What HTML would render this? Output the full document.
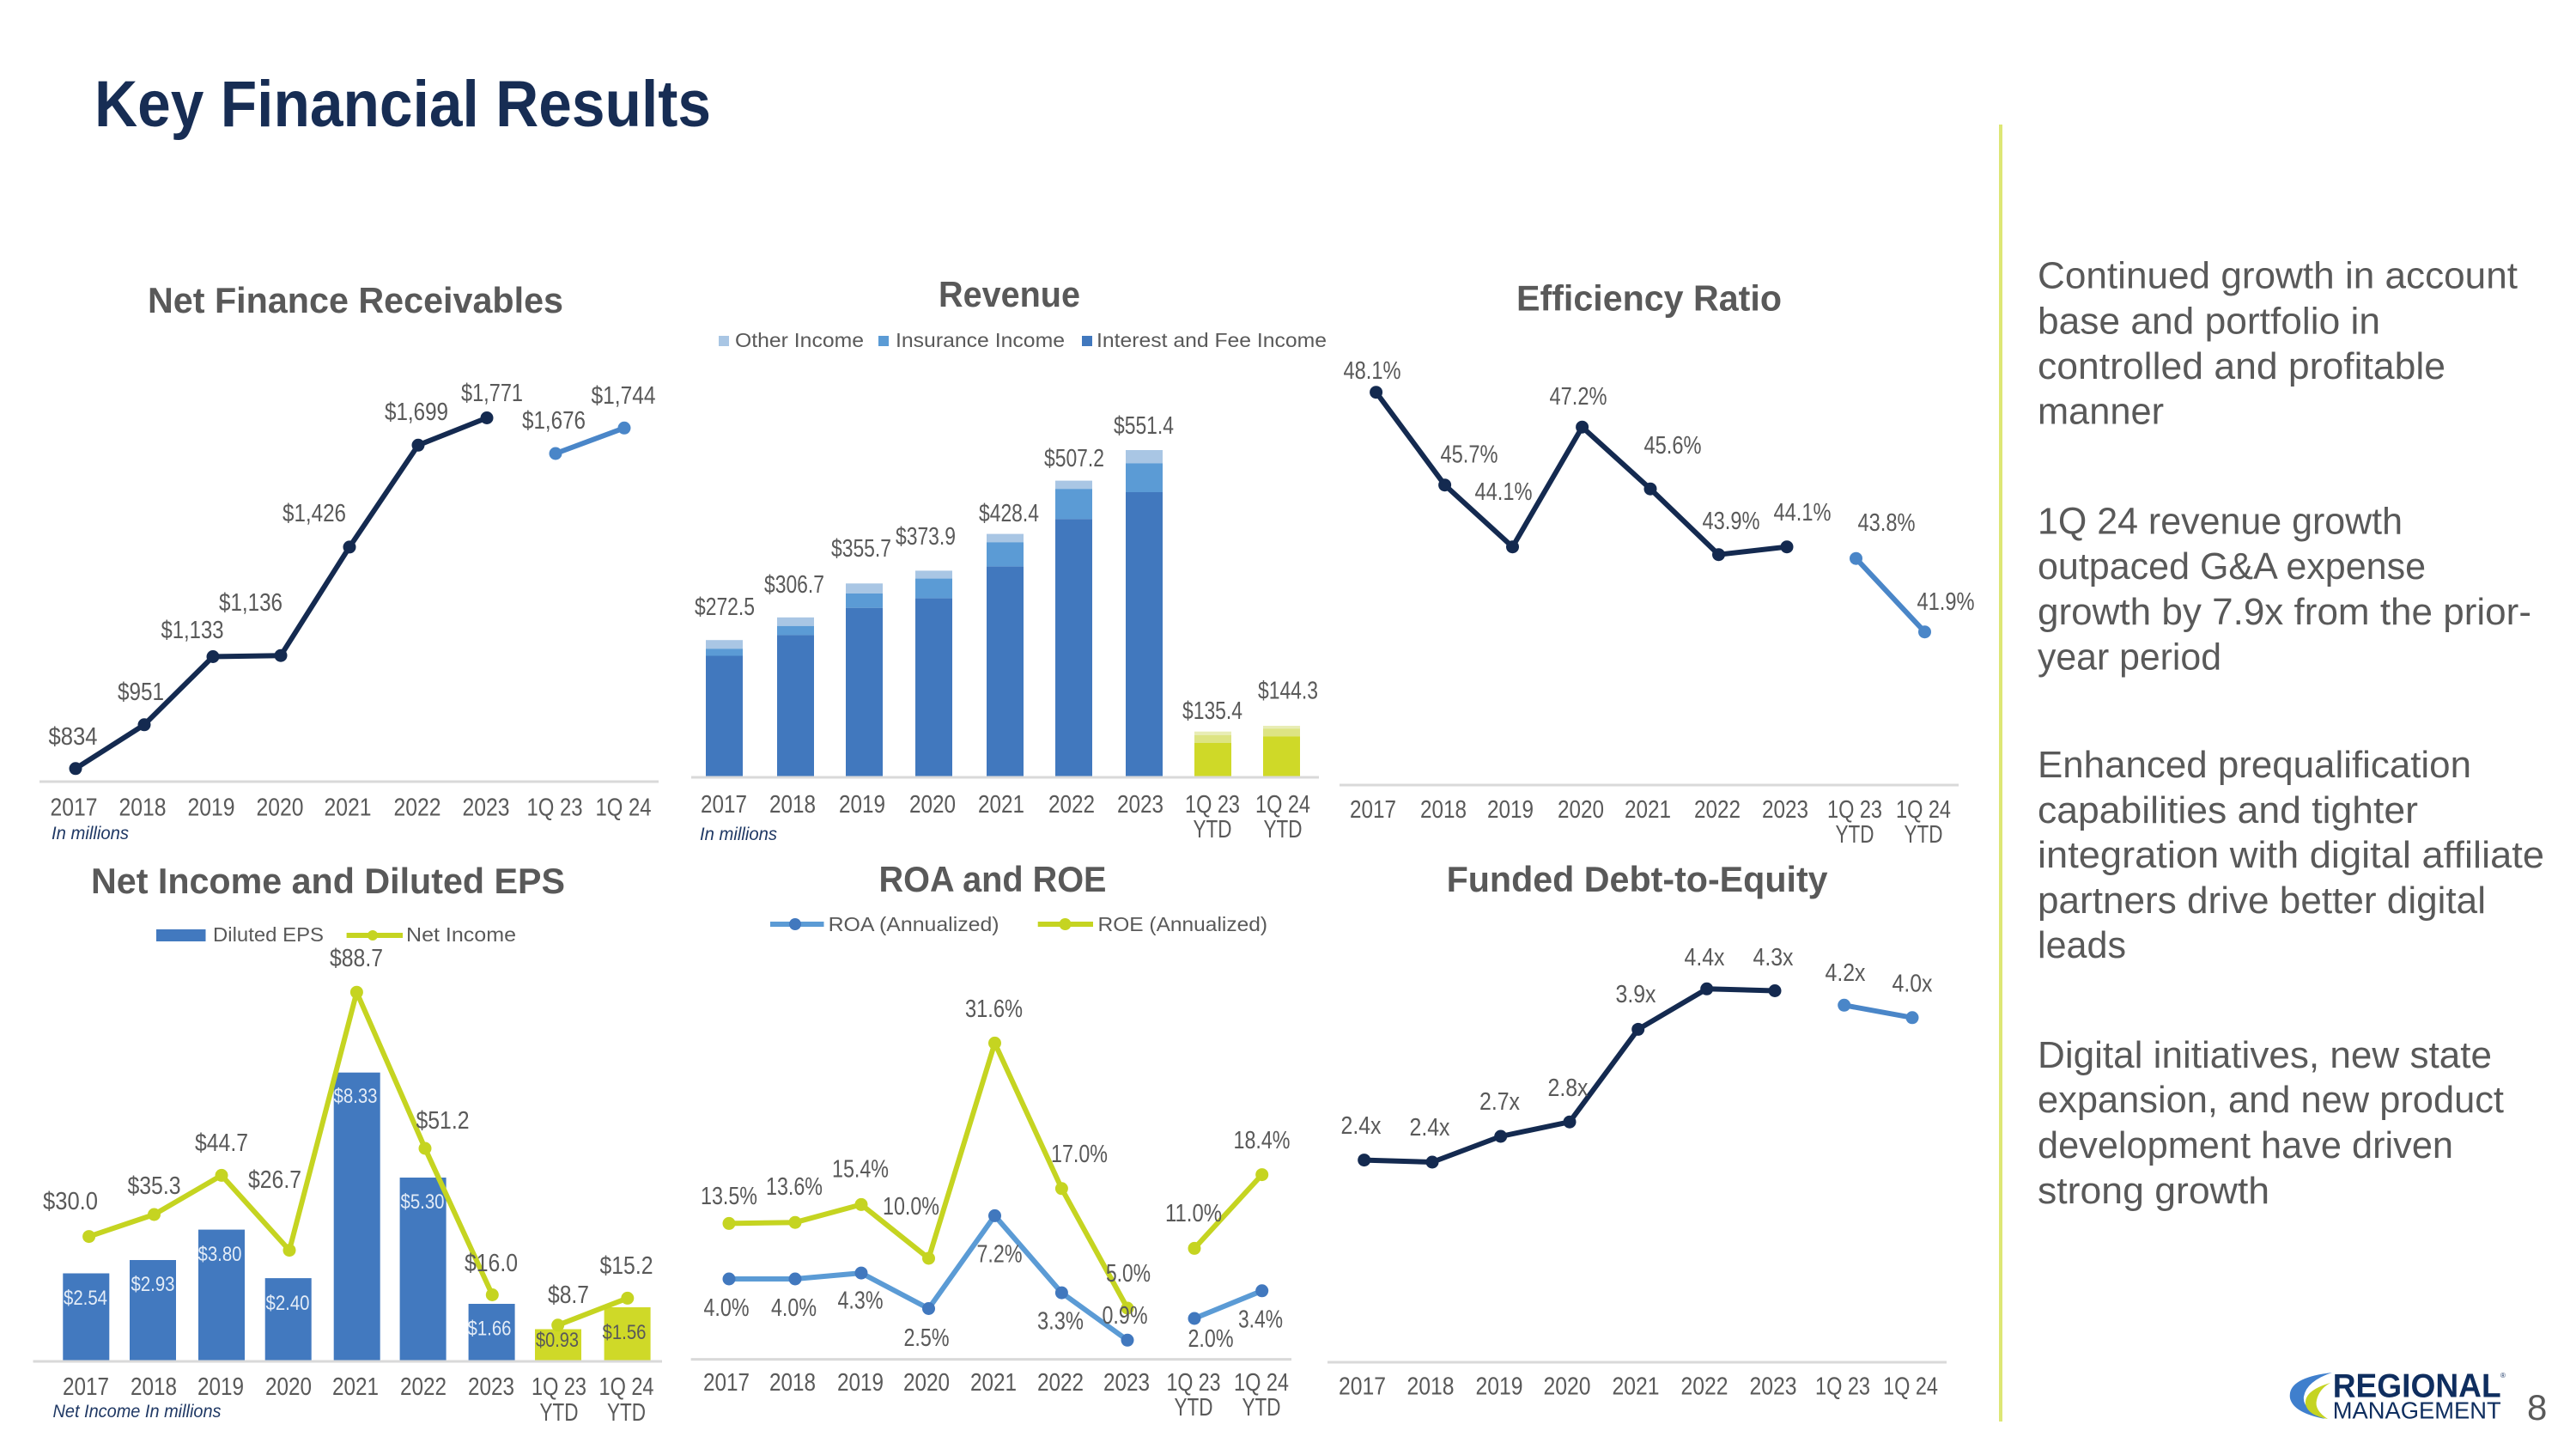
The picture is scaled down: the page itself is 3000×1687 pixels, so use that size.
<!DOCTYPE html>
<html>
<head>
<meta charset="utf-8">
<style>
  html,body{margin:0;padding:0;background:#ffffff;}
  body{width:3000px;height:1687px;overflow:hidden;}
  svg{display:block;}
  text{font-family:"Liberation Sans",sans-serif;}
  .t{fill:#595959;font-size:29px;text-anchor:middle;}
  .e{fill:#e3ecf7;font-size:24px;text-anchor:middle;}
  .g{fill:#595959;font-size:24px;text-anchor:middle;}
  .h{fill:#595959;font-size:42px;font-weight:bold;text-anchor:middle;}
  .lg{fill:#595959;font-size:23px;}
  .it{fill:#1f3864;font-size:21px;font-style:italic;}
  .r{fill:#595959;font-size:44px;}
  .ax{stroke:#d9d9d9;stroke-width:3;}
  .nv{fill:none;stroke:#142a50;stroke-width:6;stroke-linejoin:round;}
  .lb{fill:none;stroke:#4a86c8;stroke-width:6;stroke-linejoin:round;}
  .lm{fill:none;stroke:#c5d421;stroke-width:6;stroke-linejoin:round;}
  .ra{fill:none;stroke:#5b9bd5;stroke-width:6;stroke-linejoin:round;}
</style>
</head>
<body>
<svg width="3000" height="1687" viewBox="0 0 3000 1687" xmlns="http://www.w3.org/2000/svg">
<rect x="0" y="0" width="3000" height="1687" fill="#ffffff"/>

<!-- Main title -->
<text x="110" y="147" font-size="76" font-weight="bold" fill="#172d54" textLength="718" lengthAdjust="spacingAndGlyphs">Key Financial Results</text>

<!-- Divider -->
<line x1="2330" y1="145" x2="2330" y2="1655" stroke="#dde775" stroke-width="4"/>

<!-- ============ Chart 1: Net Finance Receivables ============ -->
<text class="h" x="414" y="364" textLength="484" lengthAdjust="spacingAndGlyphs">Net Finance Receivables</text>
<line class="ax" x1="46" y1="910" x2="767" y2="910"/>
<polyline class="nv" points="88,894.8 168,843.8 248,764.5 327,763.2 407,636.9 487,518.3 567,486.5"/>
<polyline class="lb" points="647,528 727,498.3"/>
<g fill="#142a50">
<circle cx="88" cy="894.8" r="7.5"/><circle cx="168" cy="843.8" r="7.5"/><circle cx="248" cy="764.5" r="7.5"/>
<circle cx="327" cy="763.2" r="7.5"/><circle cx="407" cy="636.9" r="7.5"/><circle cx="487" cy="518.3" r="7.5"/>
<circle cx="567" cy="486.5" r="7.5"/>
</g>
<g fill="#4a86c8"><circle cx="647" cy="528" r="7.5"/><circle cx="727" cy="498.3" r="7.5"/></g>
<text class="t" x="85" y="867" textLength="57" lengthAdjust="spacingAndGlyphs">$834</text>
<text class="t" x="164" y="815" textLength="54" lengthAdjust="spacingAndGlyphs">$951</text>
<text class="t" x="224" y="743" textLength="73" lengthAdjust="spacingAndGlyphs">$1,133</text>
<text class="t" x="292" y="711" textLength="74" lengthAdjust="spacingAndGlyphs">$1,136</text>
<text class="t" x="366" y="607" textLength="74" lengthAdjust="spacingAndGlyphs">$1,426</text>
<text class="t" x="485" y="489" textLength="74" lengthAdjust="spacingAndGlyphs">$1,699</text>
<text class="t" x="573" y="467" textLength="72" lengthAdjust="spacingAndGlyphs">$1,771</text>
<text class="t" x="645" y="499" textLength="74" lengthAdjust="spacingAndGlyphs">$1,676</text>
<text class="t" x="726" y="470" textLength="75" lengthAdjust="spacingAndGlyphs">$1,744</text>
<g>
<text class="t" x="86" y="949.5" textLength="55" lengthAdjust="spacingAndGlyphs">2017</text>
<text class="t" x="166" y="949.5" textLength="55" lengthAdjust="spacingAndGlyphs">2018</text>
<text class="t" x="246" y="949.5" textLength="55" lengthAdjust="spacingAndGlyphs">2019</text>
<text class="t" x="326" y="949.5" textLength="55" lengthAdjust="spacingAndGlyphs">2020</text>
<text class="t" x="405" y="949.5" textLength="55" lengthAdjust="spacingAndGlyphs">2021</text>
<text class="t" x="486" y="949.5" textLength="55" lengthAdjust="spacingAndGlyphs">2022</text>
<text class="t" x="566" y="949.5" textLength="55" lengthAdjust="spacingAndGlyphs">2023</text>
<text class="t" x="646" y="949.5" textLength="65" lengthAdjust="spacingAndGlyphs">1Q 23</text>
<text class="t" x="726" y="949.5" textLength="65" lengthAdjust="spacingAndGlyphs">1Q 24</text>
</g>
<text class="it" x="60" y="977" textLength="90" lengthAdjust="spacingAndGlyphs">In millions</text>

<!-- ============ Chart 2: Revenue ============ -->
<text class="h" x="1175.5" y="357" textLength="165" lengthAdjust="spacingAndGlyphs">Revenue</text>
<rect x="837" y="391" width="12" height="12" fill="#a9c6e4"/>
<text class="lg" x="856" y="404" textLength="150" lengthAdjust="spacingAndGlyphs">Other Income</text>
<rect x="1023" y="391" width="12" height="12" fill="#5b9bd5"/>
<text class="lg" x="1043" y="404" textLength="197" lengthAdjust="spacingAndGlyphs">Insurance Income</text>
<rect x="1260" y="391" width="12" height="12" fill="#4178be"/>
<text class="lg" x="1277" y="404" textLength="268" lengthAdjust="spacingAndGlyphs">Interest and Fee Income</text>

<g>
<!-- 2017 -->
<rect x="822" y="745.2" width="43" height="10.1" fill="#a9c6e4"/><rect x="822" y="755.3" width="43" height="8.2" fill="#5b9bd5"/><rect x="822" y="763.5" width="43" height="141.5" fill="#4178be"/>
<!-- 2018 -->
<rect x="905" y="718.8" width="43" height="10" fill="#a9c6e4"/><rect x="905" y="728.8" width="43" height="10.6" fill="#5b9bd5"/><rect x="905" y="739.4" width="43" height="165.6" fill="#4178be"/>
<!-- 2019 -->
<rect x="985" y="679.3" width="43" height="11.6" fill="#a9c6e4"/><rect x="985" y="690.9" width="43" height="16.8" fill="#5b9bd5"/><rect x="985" y="707.7" width="43" height="197.3" fill="#4178be"/>
<!-- 2020 -->
<rect x="1066" y="664.4" width="43" height="9.2" fill="#a9c6e4"/><rect x="1066" y="673.6" width="43" height="23" fill="#5b9bd5"/><rect x="1066" y="696.6" width="43" height="208.4" fill="#4178be"/>
<!-- 2021 -->
<rect x="1149" y="621.6" width="43" height="9.7" fill="#a9c6e4"/><rect x="1149" y="631.3" width="43" height="28.3" fill="#5b9bd5"/><rect x="1149" y="659.6" width="43" height="245.4" fill="#4178be"/>
<!-- 2022 -->
<rect x="1229" y="559.6" width="43" height="9.6" fill="#a9c6e4"/><rect x="1229" y="569.2" width="43" height="35.1" fill="#5b9bd5"/><rect x="1229" y="604.3" width="43" height="300.7" fill="#4178be"/>
<!-- 2023 -->
<rect x="1311" y="524" width="43" height="15.4" fill="#a9c6e4"/><rect x="1311" y="539.4" width="43" height="33.6" fill="#5b9bd5"/><rect x="1311" y="573" width="43" height="332" fill="#4178be"/>
<!-- 1Q23 -->
<rect x="1391" y="851.7" width="43" height="4.3" fill="#e8edb5"/><rect x="1391" y="856" width="43" height="9" fill="#dde483"/><rect x="1391" y="865" width="43" height="40" fill="#cfd928"/>
<!-- 1Q24 -->
<rect x="1471" y="845" width="43" height="3.3" fill="#e8edb5"/><rect x="1471" y="848.3" width="43" height="9" fill="#dde483"/><rect x="1471" y="857.3" width="43" height="47.7" fill="#cfd928"/>
</g>
<line class="ax" x1="805" y1="905" x2="1536" y2="905"/>
<text class="t" x="844" y="716" textLength="70" lengthAdjust="spacingAndGlyphs">$272.5</text>
<text class="t" x="925" y="690" textLength="70" lengthAdjust="spacingAndGlyphs">$306.7</text>
<text class="t" x="1003" y="648" textLength="70" lengthAdjust="spacingAndGlyphs">$355.7</text>
<text class="t" x="1078" y="634" textLength="70" lengthAdjust="spacingAndGlyphs">$373.9</text>
<text class="t" x="1175" y="607" textLength="70" lengthAdjust="spacingAndGlyphs">$428.4</text>
<text class="t" x="1251" y="543" textLength="70" lengthAdjust="spacingAndGlyphs">$507.2</text>
<text class="t" x="1332" y="505" textLength="70" lengthAdjust="spacingAndGlyphs">$551.4</text>
<text class="t" x="1412" y="837" textLength="70" lengthAdjust="spacingAndGlyphs">$135.4</text>
<text class="t" x="1500" y="813.5" textLength="70" lengthAdjust="spacingAndGlyphs">$144.3</text>
<g>
<text class="t" x="843" y="946" textLength="54" lengthAdjust="spacingAndGlyphs">2017</text>
<text class="t" x="923" y="946" textLength="54" lengthAdjust="spacingAndGlyphs">2018</text>
<text class="t" x="1004" y="946" textLength="54" lengthAdjust="spacingAndGlyphs">2019</text>
<text class="t" x="1086" y="946" textLength="54" lengthAdjust="spacingAndGlyphs">2020</text>
<text class="t" x="1166" y="946" textLength="54" lengthAdjust="spacingAndGlyphs">2021</text>
<text class="t" x="1248" y="946" textLength="54" lengthAdjust="spacingAndGlyphs">2022</text>
<text class="t" x="1328" y="946" textLength="54" lengthAdjust="spacingAndGlyphs">2023</text>
<text class="t" x="1412" y="946" textLength="64" lengthAdjust="spacingAndGlyphs">1Q 23</text>
<text class="t" x="1494" y="946" textLength="64" lengthAdjust="spacingAndGlyphs">1Q 24</text>
<text class="t" x="1412" y="975" textLength="45" lengthAdjust="spacingAndGlyphs">YTD</text>
<text class="t" x="1494" y="975" textLength="45" lengthAdjust="spacingAndGlyphs">YTD</text>
</g>
<text class="it" x="815" y="978" textLength="90" lengthAdjust="spacingAndGlyphs">In millions</text>

<!-- ============ Chart 3: Efficiency Ratio ============ -->
<text class="h" x="1920.5" y="361.5" textLength="309" lengthAdjust="spacingAndGlyphs">Efficiency Ratio</text>
<line class="ax" x1="1560" y1="914" x2="2281" y2="914"/>
<polyline class="nv" points="1602.6,456.7 1682.6,564.7 1761.5,636.7 1842.6,497.2 1922,569.2 2001.5,645.7 2081,636.7"/>
<polyline class="lb" points="2161.5,650.2 2241.5,735.7"/>
<g fill="#142a50">
<circle cx="1602.6" cy="456.7" r="7.5"/><circle cx="1682.6" cy="564.7" r="7.5"/><circle cx="1761.5" cy="636.7" r="7.5"/>
<circle cx="1842.6" cy="497.2" r="7.5"/><circle cx="1922" cy="569.2" r="7.5"/><circle cx="2001.5" cy="645.7" r="7.5"/>
<circle cx="2081" cy="636.7" r="7.5"/>
</g>
<g fill="#4a86c8"><circle cx="2161.5" cy="650.2" r="7.5"/><circle cx="2241.5" cy="735.7" r="7.5"/></g>
<text class="t" x="1598" y="441" textLength="67" lengthAdjust="spacingAndGlyphs">48.1%</text>
<text class="t" x="1711" y="538.5" textLength="67" lengthAdjust="spacingAndGlyphs">45.7%</text>
<text class="t" x="1751" y="582" textLength="67" lengthAdjust="spacingAndGlyphs">44.1%</text>
<text class="t" x="1838" y="471" textLength="67" lengthAdjust="spacingAndGlyphs">47.2%</text>
<text class="t" x="1948" y="528" textLength="67" lengthAdjust="spacingAndGlyphs">45.6%</text>
<text class="t" x="2016" y="616" textLength="67" lengthAdjust="spacingAndGlyphs">43.9%</text>
<text class="t" x="2099" y="606" textLength="67" lengthAdjust="spacingAndGlyphs">44.1%</text>
<text class="t" x="2197" y="618" textLength="67" lengthAdjust="spacingAndGlyphs">43.8%</text>
<text class="t" x="2266" y="710" textLength="67" lengthAdjust="spacingAndGlyphs">41.9%</text>
<g>
<text class="t" x="1599" y="952" textLength="54" lengthAdjust="spacingAndGlyphs">2017</text>
<text class="t" x="1681" y="952" textLength="54" lengthAdjust="spacingAndGlyphs">2018</text>
<text class="t" x="1759" y="952" textLength="54" lengthAdjust="spacingAndGlyphs">2019</text>
<text class="t" x="1841" y="952" textLength="54" lengthAdjust="spacingAndGlyphs">2020</text>
<text class="t" x="1919" y="952" textLength="54" lengthAdjust="spacingAndGlyphs">2021</text>
<text class="t" x="2000" y="952" textLength="54" lengthAdjust="spacingAndGlyphs">2022</text>
<text class="t" x="2079" y="952" textLength="54" lengthAdjust="spacingAndGlyphs">2023</text>
<text class="t" x="2160" y="952" textLength="64" lengthAdjust="spacingAndGlyphs">1Q 23</text>
<text class="t" x="2240" y="952" textLength="64" lengthAdjust="spacingAndGlyphs">1Q 24</text>
<text class="t" x="2160" y="981" textLength="45" lengthAdjust="spacingAndGlyphs">YTD</text>
<text class="t" x="2240" y="981" textLength="45" lengthAdjust="spacingAndGlyphs">YTD</text>
</g>

<!-- ============ Chart 4: Net Income and Diluted EPS ============ -->
<text class="h" x="382" y="1040" textLength="552" lengthAdjust="spacingAndGlyphs">Net Income and Diluted EPS</text>
<rect x="182" y="1082" width="57.5" height="14" fill="#4279bf"/>
<text class="lg" x="248" y="1096" textLength="129" lengthAdjust="spacingAndGlyphs">Diluted EPS</text>
<line x1="403.6" y1="1089" x2="469" y2="1089" stroke="#c5d421" stroke-width="6"/>
<circle cx="434" cy="1089" r="6" fill="#c5d421"/>
<text class="lg" x="473" y="1096" textLength="128" lengthAdjust="spacingAndGlyphs">Net Income</text>
<g fill="#4279bf">
<rect x="73.3" y="1482.5" width="54" height="102.5"/>
<rect x="151" y="1467" width="54" height="118"/>
<rect x="231" y="1431.6" width="54" height="153.4"/>
<rect x="308.7" y="1488.1" width="54" height="96.9"/>
<rect x="388.7" y="1248.7" width="54" height="336.3"/>
<rect x="465.6" y="1371" width="54" height="214"/>
<rect x="545.6" y="1518" width="54" height="67"/>
</g>
<g fill="#cfd928">
<rect x="623" y="1547.5" width="54" height="37.5"/>
<rect x="703.6" y="1522" width="54" height="63"/>
</g>
<line class="ax" x1="38.5" y1="1585" x2="771" y2="1585"/>
<text class="e" x="99.5" y="1519" textLength="51" lengthAdjust="spacingAndGlyphs">$2.54</text>
<text class="e" x="178" y="1503" textLength="51" lengthAdjust="spacingAndGlyphs">$2.93</text>
<text class="e" x="256" y="1468" textLength="51" lengthAdjust="spacingAndGlyphs">$3.80</text>
<text class="e" x="335" y="1525" textLength="51" lengthAdjust="spacingAndGlyphs">$2.40</text>
<text class="e" x="414" y="1284" textLength="51" lengthAdjust="spacingAndGlyphs">$8.33</text>
<text class="e" x="492" y="1407" textLength="51" lengthAdjust="spacingAndGlyphs">$5.30</text>
<text class="e" x="570" y="1554.5" textLength="51" lengthAdjust="spacingAndGlyphs">$1.66</text>
<text class="g" x="649" y="1568" textLength="50" lengthAdjust="spacingAndGlyphs">$0.93</text>
<text class="g" x="727" y="1559" textLength="51" lengthAdjust="spacingAndGlyphs">$1.56</text>
<polyline class="lm" points="103.6,1439.6 179.5,1414 258,1368.4 337,1455.6 415.4,1155.2 495,1337 573.3,1507.5"/>
<polyline class="lm" points="649.7,1542.8 730.8,1511.4"/>
<g fill="#c5d421">
<circle cx="103.6" cy="1439.6" r="7.5"/><circle cx="179.5" cy="1414" r="7.5"/><circle cx="258" cy="1368.4" r="7.5"/>
<circle cx="337" cy="1455.6" r="7.5"/><circle cx="415.4" cy="1155.2" r="7.5"/><circle cx="495" cy="1337" r="7.5"/>
<circle cx="573.3" cy="1507.5" r="7.5"/><circle cx="649.7" cy="1542.8" r="7.5"/><circle cx="730.8" cy="1511.4" r="7.5"/>
</g>
<text class="t" x="82" y="1408" textLength="64" lengthAdjust="spacingAndGlyphs">$30.0</text>
<text class="t" x="179.5" y="1390" textLength="62" lengthAdjust="spacingAndGlyphs">$35.3</text>
<text class="t" x="258" y="1340" textLength="62" lengthAdjust="spacingAndGlyphs">$44.7</text>
<text class="t" x="320" y="1383" textLength="62" lengthAdjust="spacingAndGlyphs">$26.7</text>
<text class="t" x="415" y="1125" textLength="62" lengthAdjust="spacingAndGlyphs">$88.7</text>
<text class="t" x="515.5" y="1314" textLength="62" lengthAdjust="spacingAndGlyphs">$51.2</text>
<text class="t" x="572" y="1480" textLength="62" lengthAdjust="spacingAndGlyphs">$16.0</text>
<text class="t" x="662" y="1517" textLength="48" lengthAdjust="spacingAndGlyphs">$8.7</text>
<text class="t" x="729.5" y="1483" textLength="62" lengthAdjust="spacingAndGlyphs">$15.2</text>
<g>
<text class="t" x="100" y="1624" textLength="54" lengthAdjust="spacingAndGlyphs">2017</text>
<text class="t" x="179" y="1624" textLength="54" lengthAdjust="spacingAndGlyphs">2018</text>
<text class="t" x="257" y="1624" textLength="54" lengthAdjust="spacingAndGlyphs">2019</text>
<text class="t" x="336" y="1624" textLength="54" lengthAdjust="spacingAndGlyphs">2020</text>
<text class="t" x="414" y="1624" textLength="54" lengthAdjust="spacingAndGlyphs">2021</text>
<text class="t" x="493" y="1624" textLength="54" lengthAdjust="spacingAndGlyphs">2022</text>
<text class="t" x="572" y="1624" textLength="54" lengthAdjust="spacingAndGlyphs">2023</text>
<text class="t" x="651" y="1624" textLength="64" lengthAdjust="spacingAndGlyphs">1Q 23</text>
<text class="t" x="729.5" y="1624" textLength="64" lengthAdjust="spacingAndGlyphs">1Q 24</text>
<text class="t" x="651" y="1654" textLength="45" lengthAdjust="spacingAndGlyphs">YTD</text>
<text class="t" x="729.5" y="1654" textLength="45" lengthAdjust="spacingAndGlyphs">YTD</text>
</g>
<text class="it" x="61.5" y="1650" textLength="196" lengthAdjust="spacingAndGlyphs">Net Income In millions</text>

<!-- ============ Chart 5: ROA and ROE ============ -->
<text class="h" x="1156" y="1038" textLength="265" lengthAdjust="spacingAndGlyphs">ROA and ROE</text>
<line x1="897" y1="1076" x2="959.5" y2="1076" stroke="#5b9bd5" stroke-width="6"/>
<circle cx="926" cy="1076" r="7" fill="#4178be"/>
<text class="lg" x="964.6" y="1084" textLength="199" lengthAdjust="spacingAndGlyphs">ROA (Annualized)</text>
<line x1="1208.7" y1="1076" x2="1273" y2="1076" stroke="#c5d421" stroke-width="6"/>
<circle cx="1240.5" cy="1076" r="7" fill="#c5d421"/>
<text class="lg" x="1278.5" y="1084" textLength="197.5" lengthAdjust="spacingAndGlyphs">ROE (Annualized)</text>
<line class="ax" x1="804.6" y1="1582.6" x2="1504" y2="1582.6"/>
<polyline class="lm" points="849,1424.4 926,1423.2 1003,1402.4 1081.5,1465 1158.5,1214.4 1236.4,1383.8 1313,1523"/>
<polyline class="lm" points="1391,1453.4 1469.7,1367.6"/>
<g fill="#c5d421">
<circle cx="849" cy="1424.4" r="7.5"/><circle cx="926" cy="1423.2" r="7.5"/><circle cx="1003" cy="1402.4" r="7.5"/>
<circle cx="1081.5" cy="1465" r="7.5"/><circle cx="1158.5" cy="1214.4" r="7.5"/><circle cx="1236.4" cy="1383.8" r="7.5"/>
<circle cx="1313" cy="1523" r="7.5"/><circle cx="1391" cy="1453.4" r="7.5"/><circle cx="1469.7" cy="1367.6" r="7.5"/>
</g>
<polyline class="ra" points="849,1489 926,1489 1003,1482.1 1081.5,1523.5 1158.5,1415.4 1236.4,1505.1 1313,1560.3"/>
<polyline class="ra" points="1391,1535 1469.7,1502.8"/>
<g fill="#4178be">
<circle cx="849" cy="1489" r="7.5"/><circle cx="926" cy="1489" r="7.5"/><circle cx="1003" cy="1482.1" r="7.5"/>
<circle cx="1081.5" cy="1523.5" r="7.5"/><circle cx="1158.5" cy="1415.4" r="7.5"/><circle cx="1236.4" cy="1505.1" r="7.5"/>
<circle cx="1313" cy="1560.3" r="7.5"/><circle cx="1391" cy="1535" r="7.5"/><circle cx="1469.7" cy="1502.8" r="7.5"/>
</g>
<text class="t" x="849" y="1402" textLength="66" lengthAdjust="spacingAndGlyphs">13.5%</text>
<text class="t" x="925" y="1391" textLength="66" lengthAdjust="spacingAndGlyphs">13.6%</text>
<text class="t" x="1002" y="1370.6" textLength="66" lengthAdjust="spacingAndGlyphs">15.4%</text>
<text class="t" x="1061" y="1414" textLength="66" lengthAdjust="spacingAndGlyphs">10.0%</text>
<text class="t" x="1157.5" y="1184" textLength="67" lengthAdjust="spacingAndGlyphs">31.6%</text>
<text class="t" x="1257" y="1353" textLength="66" lengthAdjust="spacingAndGlyphs">17.0%</text>
<text class="t" x="1314" y="1492" textLength="52" lengthAdjust="spacingAndGlyphs">5.0%</text>
<text class="t" x="1390" y="1422" textLength="66" lengthAdjust="spacingAndGlyphs">11.0%</text>
<text class="t" x="1469.5" y="1337" textLength="66" lengthAdjust="spacingAndGlyphs">18.4%</text>
<text class="t" x="846" y="1532" textLength="53" lengthAdjust="spacingAndGlyphs">4.0%</text>
<text class="t" x="924.5" y="1532" textLength="53" lengthAdjust="spacingAndGlyphs">4.0%</text>
<text class="t" x="1002" y="1523.7" textLength="53" lengthAdjust="spacingAndGlyphs">4.3%</text>
<text class="t" x="1079" y="1567" textLength="53" lengthAdjust="spacingAndGlyphs">2.5%</text>
<text class="t" x="1164" y="1469.4" textLength="53" lengthAdjust="spacingAndGlyphs">7.2%</text>
<text class="t" x="1235" y="1547.3" textLength="54" lengthAdjust="spacingAndGlyphs">3.3%</text>
<text class="t" x="1310" y="1541" textLength="53" lengthAdjust="spacingAndGlyphs">0.9%</text>
<text class="t" x="1410" y="1568" textLength="53" lengthAdjust="spacingAndGlyphs">2.0%</text>
<text class="t" x="1468" y="1545.5" textLength="52" lengthAdjust="spacingAndGlyphs">3.4%</text>
<g>
<text class="t" x="846" y="1619" textLength="54" lengthAdjust="spacingAndGlyphs">2017</text>
<text class="t" x="923" y="1619" textLength="54" lengthAdjust="spacingAndGlyphs">2018</text>
<text class="t" x="1002" y="1619" textLength="54" lengthAdjust="spacingAndGlyphs">2019</text>
<text class="t" x="1079" y="1619" textLength="54" lengthAdjust="spacingAndGlyphs">2020</text>
<text class="t" x="1157" y="1619" textLength="54" lengthAdjust="spacingAndGlyphs">2021</text>
<text class="t" x="1235" y="1619" textLength="54" lengthAdjust="spacingAndGlyphs">2022</text>
<text class="t" x="1312" y="1619" textLength="54" lengthAdjust="spacingAndGlyphs">2023</text>
<text class="t" x="1390" y="1619" textLength="63" lengthAdjust="spacingAndGlyphs">1Q 23</text>
<text class="t" x="1469" y="1619" textLength="64" lengthAdjust="spacingAndGlyphs">1Q 24</text>
<text class="t" x="1390" y="1648" textLength="45" lengthAdjust="spacingAndGlyphs">YTD</text>
<text class="t" x="1469" y="1648" textLength="45" lengthAdjust="spacingAndGlyphs">YTD</text>
</g>

<!-- ============ Chart 6: Funded Debt-to-Equity ============ -->
<text class="h" x="1906.6" y="1038" textLength="444" lengthAdjust="spacingAndGlyphs">Funded Debt-to-Equity</text>
<line class="ax" x1="1546" y1="1586" x2="2267" y2="1586"/>
<polyline class="nv" points="1588.7,1350.6 1668,1353 1747.7,1323 1828,1306.2 1907.7,1198.4 1987.7,1151.3 2067,1153.5"/>
<polyline class="lb" points="2147.7,1170.3 2227,1184.8"/>
<g fill="#142a50">
<circle cx="1588.7" cy="1350.6" r="7.5"/><circle cx="1668" cy="1353" r="7.5"/><circle cx="1747.7" cy="1323" r="7.5"/>
<circle cx="1828" cy="1306.2" r="7.5"/><circle cx="1907.7" cy="1198.4" r="7.5"/><circle cx="1987.7" cy="1151.3" r="7.5"/>
<circle cx="2067" cy="1153.5" r="7.5"/>
</g>
<g fill="#4a86c8"><circle cx="2147.7" cy="1170.3" r="7.5"/><circle cx="2227" cy="1184.8" r="7.5"/></g>
<text class="t" x="1585" y="1320" textLength="47" lengthAdjust="spacingAndGlyphs">2.4x</text>
<text class="t" x="1665" y="1322" textLength="47" lengthAdjust="spacingAndGlyphs">2.4x</text>
<text class="t" x="1746.5" y="1292" textLength="47" lengthAdjust="spacingAndGlyphs">2.7x</text>
<text class="t" x="1826" y="1276" textLength="47" lengthAdjust="spacingAndGlyphs">2.8x</text>
<text class="t" x="1905" y="1167" textLength="47" lengthAdjust="spacingAndGlyphs">3.9x</text>
<text class="t" x="1985" y="1124" textLength="47" lengthAdjust="spacingAndGlyphs">4.4x</text>
<text class="t" x="2065" y="1124" textLength="47" lengthAdjust="spacingAndGlyphs">4.3x</text>
<text class="t" x="2149" y="1142" textLength="47" lengthAdjust="spacingAndGlyphs">4.2x</text>
<text class="t" x="2227" y="1154.4" textLength="47" lengthAdjust="spacingAndGlyphs">4.0x</text>
<g>
<text class="t" x="1586.5" y="1623.4" textLength="55" lengthAdjust="spacingAndGlyphs">2017</text>
<text class="t" x="1666" y="1623.4" textLength="55" lengthAdjust="spacingAndGlyphs">2018</text>
<text class="t" x="1746" y="1623.4" textLength="55" lengthAdjust="spacingAndGlyphs">2019</text>
<text class="t" x="1825" y="1623.4" textLength="55" lengthAdjust="spacingAndGlyphs">2020</text>
<text class="t" x="1905" y="1623.4" textLength="55" lengthAdjust="spacingAndGlyphs">2021</text>
<text class="t" x="1985" y="1623.4" textLength="55" lengthAdjust="spacingAndGlyphs">2022</text>
<text class="t" x="2065" y="1623.4" textLength="55" lengthAdjust="spacingAndGlyphs">2023</text>
<text class="t" x="2146" y="1623.4" textLength="64" lengthAdjust="spacingAndGlyphs">1Q 23</text>
<text class="t" x="2225" y="1623.4" textLength="64" lengthAdjust="spacingAndGlyphs">1Q 24</text>
</g>

<!-- ============ Right text column ============ -->
<text class="r" x="2373" y="335.4" textLength="559" lengthAdjust="spacingAndGlyphs">Continued growth in account</text>
<text class="r" x="2373" y="388.3" textLength="399" lengthAdjust="spacingAndGlyphs">base and portfolio in</text>
<text class="r" x="2373" y="440.8" textLength="475" lengthAdjust="spacingAndGlyphs">controlled and profitable</text>
<text class="r" x="2373" y="493.7" textLength="147" lengthAdjust="spacingAndGlyphs">manner</text>

<text class="r" x="2373" y="621.5" textLength="425" lengthAdjust="spacingAndGlyphs">1Q 24 revenue growth</text>
<text class="r" x="2373" y="674" textLength="452" lengthAdjust="spacingAndGlyphs">outpaced G&amp;A expense</text>
<text class="r" x="2373" y="727" textLength="575" lengthAdjust="spacingAndGlyphs">growth by 7.9x from the prior-</text>
<text class="r" x="2373" y="779.4" textLength="214" lengthAdjust="spacingAndGlyphs">year period</text>

<text class="r" x="2373" y="905" textLength="505" lengthAdjust="spacingAndGlyphs">Enhanced prequalification</text>
<text class="r" x="2373" y="958" textLength="443" lengthAdjust="spacingAndGlyphs">capabilities and tighter</text>
<text class="r" x="2373" y="1010" textLength="590" lengthAdjust="spacingAndGlyphs">integration with digital affiliate</text>
<text class="r" x="2373" y="1063" textLength="522" lengthAdjust="spacingAndGlyphs">partners drive better digital</text>
<text class="r" x="2373" y="1115" textLength="103" lengthAdjust="spacingAndGlyphs">leads</text>

<text class="r" x="2373" y="1243" textLength="529" lengthAdjust="spacingAndGlyphs">Digital initiatives, new state</text>
<text class="r" x="2373" y="1295" textLength="543" lengthAdjust="spacingAndGlyphs">expansion, and new product</text>
<text class="r" x="2373" y="1348" textLength="484" lengthAdjust="spacingAndGlyphs">development have driven</text>
<text class="r" x="2373" y="1401" textLength="270" lengthAdjust="spacingAndGlyphs">strong growth</text>

<!-- ============ Logo & page number ============ -->
<path d="M2716,1598 Q2663,1604 2667,1628 Q2671,1645 2708,1652 Q2681,1641 2683,1626 Q2686,1608 2716,1598 Z" fill="#3f7fcd"/>
<path d="M2714,1610 Q2683,1619 2685,1635 Q2688,1648 2711,1652 Q2695,1642 2698,1630 Q2701,1617 2714,1610 Z" fill="#c5d421"/>
<text x="2716.7" y="1626.7" font-size="39" font-weight="bold" fill="#0f2e5f" textLength="196" lengthAdjust="spacingAndGlyphs">REGIONAL</text>
<text x="2912" y="1604" font-size="8" fill="#0f2e5f">®</text>
<text x="2716.7" y="1651.7" font-size="28" fill="#0f2e5f" textLength="196" lengthAdjust="spacingAndGlyphs">MANAGEMENT</text>
<text x="2943" y="1653" font-size="42" fill="#595959">8</text>
</svg>
</body>
</html>
